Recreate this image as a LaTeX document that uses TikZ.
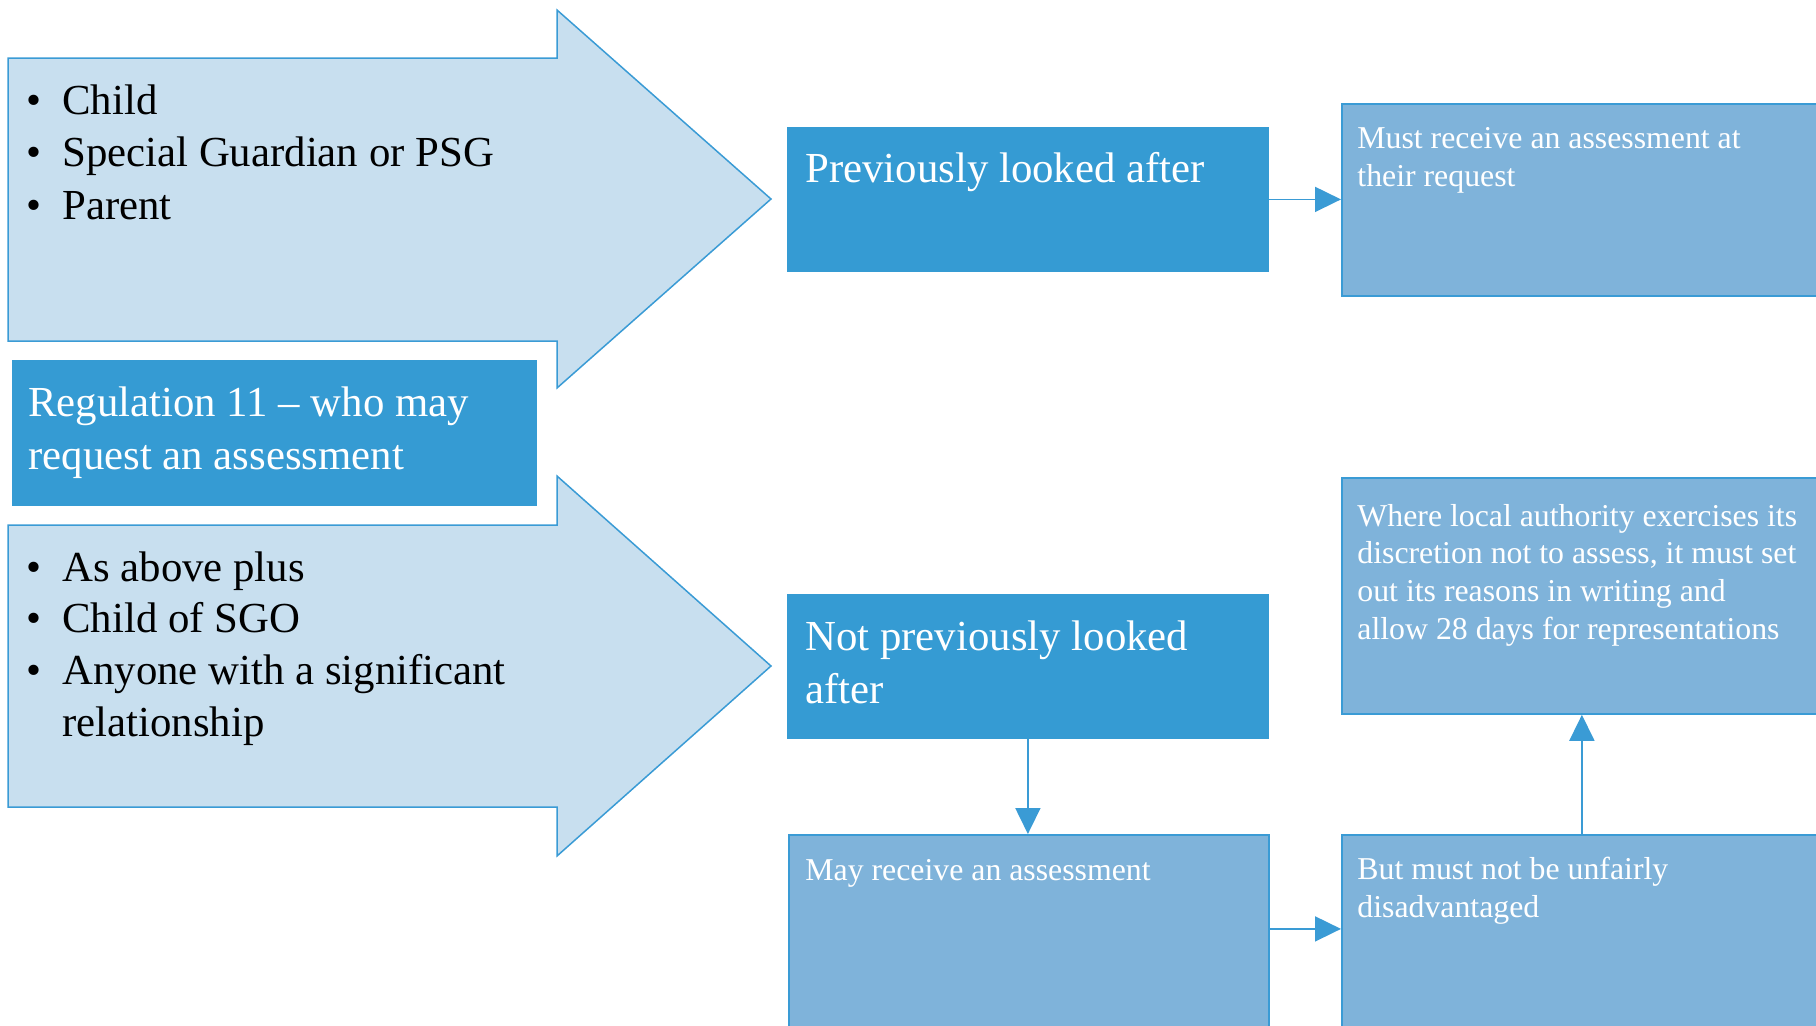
\documentclass[tikz,border=0pt]{standalone}
\usepackage{fontspec}
\setmainfont{Liberation Serif}
\usetikzlibrary{arrows.meta,positioning}

\definecolor{pale}{RGB}{200,223,239}
\definecolor{deep}{RGB}{53,155,211}
\definecolor{mid}{RGB}{127,179,218}
\definecolor{edge}{RGB}{58,155,213}

\newcommand{\bigtext}{\fontsize{21.4}{26.2}\selectfont}
\newcommand{\smalltext}{\fontsize{15.9}{18.8}\selectfont}
\newcommand{\itm}[1]{\makebox[18pt][l]{\textbullet}#1}

\tikzset{
  arrowshape/.style={fill=pale, draw=edge, line width=0.75pt},
  deepbox/.style={fill=deep, draw=deep, anchor=north west, inner sep=0pt},
  midbox/.style={fill=mid, draw=edge, line width=0.9pt, anchor=north west, inner sep=0pt},
  % base west = baseline of the last line
  bigwhite/.style={text=white, font=\bigtext, align=left, anchor=base west, inner sep=0pt},
  smallwhite/.style={text=white, font=\smalltext, align=left, anchor=base west, inner sep=0pt},
  bullets/.style={text=black, font=\bigtext, align=left, anchor=base west, inner sep=0pt},
  link/.style={draw=edge, line width=0.9pt, -{Triangle[length=13pt,width=12.5pt]}}
}

\begin{document}
\begin{tikzpicture}[x=0.5pt,y=-0.5pt]
\useasboundingbox (0,0) rectangle (1816,1025);

\draw[arrowshape] (8,58) -- (557,58) -- (557,10) -- (771,199) -- (557,388) -- (557,341) -- (8,341) -- cycle;
\draw[arrowshape] (8,525) -- (557,525) -- (557,476) -- (771,666) -- (557,856) -- (557,807) -- (8,807) -- cycle;

\node[bullets] (who1) at (26,219) {\itm{Child}\\ \itm{Special Guardian or PSG}\\ \itm{Parent}};
\node[bullets, font=\fontsize{21.4}{25.8}\selectfont] (who2) at (26,736) {\itm{As above plus}\\ \itm{Child of SGO}\\ \itm{Anyone with a significant}\\ \hspace*{18pt}relationship};

\node[deepbox, minimum width=262pt, minimum height=72.5pt] (reg) at (12,360) {};
\node[bigwhite] (regtext) at (28,469) {Regulation 11 -- who may\\ request an assessment};

\node[deepbox, minimum width=240.5pt, minimum height=72pt] (pla) at (787,127) {};
\node[bigwhite] (platext) at (805,182) {Previously looked after};

\node[deepbox, minimum width=240.5pt, minimum height=72pt] (npla) at (787,594) {};
\node[bigwhite] (nplatext) at (805,703) {Not previously looked\\ after};

\node[midbox, minimum width=240pt, minimum height=96pt] (must) at (1341,103) {};
\node[smallwhite] (musttext) at (1357,186) {Must receive an assessment at\\ their request};

\node[midbox, minimum width=240pt, minimum height=118pt] (where) at (1341,477) {};
\node[smallwhite] (wheretext) at (1357,639) {Where local authority exercises its\\ discretion not to assess, it must set\\ out its reasons in writing and\\ allow 28 days for representations};

\node[midbox, minimum width=240pt, minimum height=118pt] (may) at (788,834) {};
\node[smallwhite] (maytext) at (805,880) {May receive an assessment};

\node[midbox, minimum width=240pt, minimum height=118pt] (but) at (1341,834) {};
\node[smallwhite] (buttext) at (1357,917) {But must not be unfairly\\ disadvantaged};

\draw[link] (pla.east) -- (pla.east -| must.west);
\draw[link] (npla.south) -- (npla.south |- may.north);
\draw[link] ([yshift=12pt]may.east) -- ([yshift=12pt]may.east -| but.west);
\draw[link] (but.north) -- (where.south);

\end{tikzpicture}
\end{document}
